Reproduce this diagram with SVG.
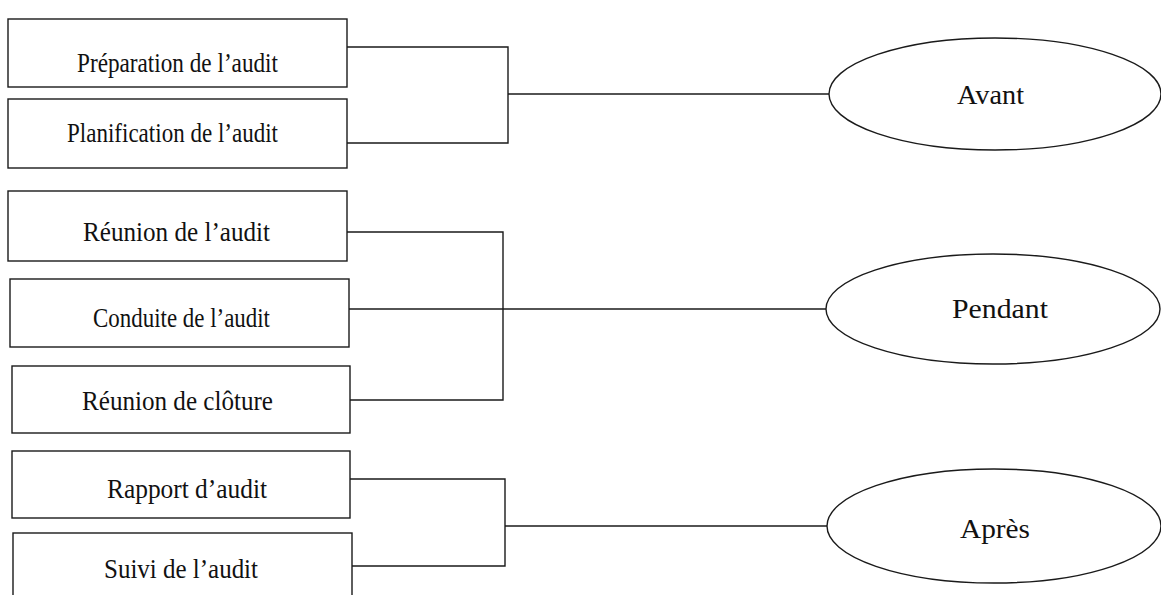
<svg xmlns="http://www.w3.org/2000/svg" width="1161" height="595" viewBox="0 0 1161 595">
  <style>
    .box { fill: #fff; stroke: #1a1a1a; stroke-width: 1.4; }
    .oval { fill: #fff; stroke: #1a1a1a; stroke-width: 1.4; }
    .lbl { font-family: 'Liberation Serif', 'DejaVu Serif', serif; font-size: 27px; fill: #111; }
    .wire { fill: none; stroke: #1a1a1a; stroke-width: 1.4; }
  </style>
  <rect width="1161" height="595" fill="#fff"/>

  <!-- connectors -->
  <g id="connectors">
    <polyline class="wire" points="347,47 508,47 508,143 347,143"/>
    <line class="wire" x1="508" y1="94" x2="829" y2="94"/>
    <polyline class="wire" points="345,232 503,232 503,400 350,400"/>
    <line class="wire" x1="349" y1="309" x2="826" y2="309"/>
    <polyline class="wire" points="350,479 505,479 505,566 350,566"/>
    <line class="wire" x1="505" y1="526" x2="827" y2="526"/>
  </g>

  <!-- activities -->
  <g id="preparation">
    <rect class="box" x="8" y="19" width="339" height="68"/>
    <text class="lbl" x="77" y="72" textLength="201" lengthAdjust="spacingAndGlyphs">Préparation de l’audit</text>
  </g>
  <g id="planification">
    <rect class="box" x="8" y="99" width="339" height="69"/>
    <text class="lbl" x="67" y="142" textLength="211" lengthAdjust="spacingAndGlyphs">Planification de l’audit</text>
  </g>
  <g id="reunion-audit">
    <rect class="box" x="8" y="191" width="339" height="70"/>
    <text class="lbl" x="83" y="241" textLength="187" lengthAdjust="spacingAndGlyphs">Réunion de l’audit</text>
  </g>
  <g id="conduite">
    <rect class="box" x="10" y="279" width="339" height="68"/>
    <text class="lbl" x="93" y="327" textLength="177" lengthAdjust="spacingAndGlyphs">Conduite de l’audit</text>
  </g>
  <g id="reunion-cloture">
    <rect class="box" x="12" y="366" width="338" height="67"/>
    <text class="lbl" x="82" y="410" textLength="191" lengthAdjust="spacingAndGlyphs">Réunion de clôture</text>
  </g>
  <g id="rapport">
    <rect class="box" x="12" y="451" width="338" height="67"/>
    <text class="lbl" x="107" y="498" textLength="160" lengthAdjust="spacingAndGlyphs">Rapport d’audit</text>
  </g>
  <g id="suivi">
    <rect class="box" x="13" y="533" width="339" height="80"/>
    <text class="lbl" x="104" y="578" textLength="154" lengthAdjust="spacingAndGlyphs">Suivi de l’audit</text>
  </g>

  <!-- phases -->
  <g id="avant">
    <ellipse class="oval" cx="995" cy="94" rx="166" ry="56"/>
    <text class="lbl" x="957" y="104" textLength="67" lengthAdjust="spacingAndGlyphs">Avant</text>
  </g>
  <g id="pendant">
    <ellipse class="oval" cx="993" cy="309" rx="167" ry="55"/>
    <text class="lbl" x="952" y="318" textLength="96" lengthAdjust="spacingAndGlyphs">Pendant</text>
  </g>
  <g id="apres">
    <ellipse class="oval" cx="994" cy="526" rx="167" ry="57"/>
    <text class="lbl" x="960" y="538" textLength="70" lengthAdjust="spacingAndGlyphs">Après</text>
  </g>
</svg>
